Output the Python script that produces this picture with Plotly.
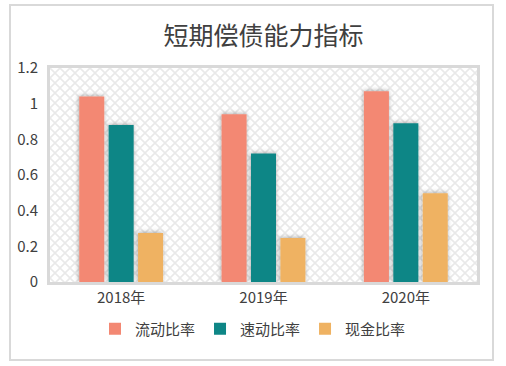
import base64
import plotly.graph_objects as go

# ---- data ----
categories = ["2018年", "2019年", "2020年"]
current_ratio = [1.04, 0.94, 1.07]
quick_ratio = [0.88, 0.72, 0.89]
cash_ratio = [0.275, 0.247, 0.497]
series_names = ["流动比率", "速动比率", "现金比率"]
colors = ["#F38873", "#0E8686", "#EFB262"]

W, H = 506, 366
L, R, T, B = 50, 29, 68, 84
pw, ph = W - L - R, H - T - B

font = "Noto Sans CJK SC, Microsoft YaHei, sans-serif"

fig = go.Figure()
for name, vals, c in zip(series_names, [current_ratio, quick_ratio, cash_ratio], colors):
    fig.add_trace(go.Bar(x=categories, y=vals, name=name, marker=dict(color=c, line=dict(width=0))))

# lattice background pattern
svg = (
    f'<svg xmlns="http://www.w3.org/2000/svg" width="{pw}" height="{ph}">'
    '<defs><pattern id="p" width="10" height="10" patternUnits="userSpaceOnUse">'
    '<path d="M0,0 L10,10 M10,0 L0,10" stroke="#e9e9e9" stroke-width="1.6"/>'
    '</pattern></defs>'
    f'<rect width="{pw}" height="{ph}" fill="url(#p)"/></svg>'
)
src = "data:image/svg+xml;base64," + base64.b64encode(svg.encode()).decode()

def px_x(p):
    return (p - L) / pw

def px_y(p):
    return (H - B - p) / ph

fig.update_layout(
    width=W, height=H,
    margin=dict(l=L, r=R, t=T, b=B, autoexpand=False),
    paper_bgcolor="white", plot_bgcolor="rgba(0,0,0,0)",
    barmode="group", bargap=0.38, bargroupgap=0.15,
    title=dict(text="短期偿债能力指标", x=0.5, xref="paper", xanchor="center",
               y=1 - 36 / H, yanchor="middle",
               font=dict(family=font, size=25, color="#404040")),
    font=dict(family=font, size=15, color="#404040"),
    showlegend=True,
    legend=dict(orientation="h", x=0.5, xanchor="center", xref="container",
                y=1 - 329 / H, yref="container", yanchor="middle",
                font=dict(family=font, size=15, color="#404040"),
                itemwidth=30, traceorder="normal"),
    xaxis=dict(showline=True, linecolor="#d9d9d9", linewidth=3, mirror=True,
               showgrid=False, ticks="", automargin=False,
               tickfont=dict(size=15, color="#404040")),
    yaxis=dict(range=[0, 1.2], dtick=0.2, showline=True, linecolor="#d9d9d9",
               linewidth=3, mirror=True, showgrid=False, zeroline=False, ticks="",
               automargin=False,
               tickfont=dict(size=15, color="#404040"), ticklabelstandoff=6),
    images=[dict(source=src, xref="paper", yref="paper", x=0, y=1, sizex=1, sizey=1,
                 sizing="stretch", layer="below", xanchor="left", yanchor="top")],
    shapes=[dict(type="rect", xref="paper", yref="paper",
                 x0=px_x(10), x1=px_x(493), y0=px_y(360), y1=px_y(5),
                 line=dict(color="#d9d9d9", width=2), fillcolor="rgba(0,0,0,0)",
                 layer="below")],
)

post = """
document.body.style.margin='0';document.body.style.overflow='hidden';
(function(){
  var svgEl = document.querySelector('.main-svg');
  var ns = 'http://www.w3.org/2000/svg';
  var defs = svgEl.querySelector('defs') || svgEl.insertBefore(document.createElementNS(ns,'defs'), svgEl.firstChild);
  var f = document.createElementNS(ns,'filter');
  f.setAttribute('id','barshadow');
  f.setAttribute('x','-50%'); f.setAttribute('y','-50%');
  f.setAttribute('width','200%'); f.setAttribute('height','200%');
  var d = document.createElementNS(ns,'feDropShadow');
  d.setAttribute('dx','-0.5'); d.setAttribute('dy','-0.5');
  d.setAttribute('stdDeviation','2.2');
  d.setAttribute('flood-color','#000'); d.setAttribute('flood-opacity','0.35');
  f.appendChild(d); defs.appendChild(f);
  document.querySelectorAll('.barlayer .point path').forEach(function(p){
    p.setAttribute('filter','url(#barshadow)');
  });
})();
"""

fig.write_html("out.html", config={"displayModeBar": False}, post_script=post)
